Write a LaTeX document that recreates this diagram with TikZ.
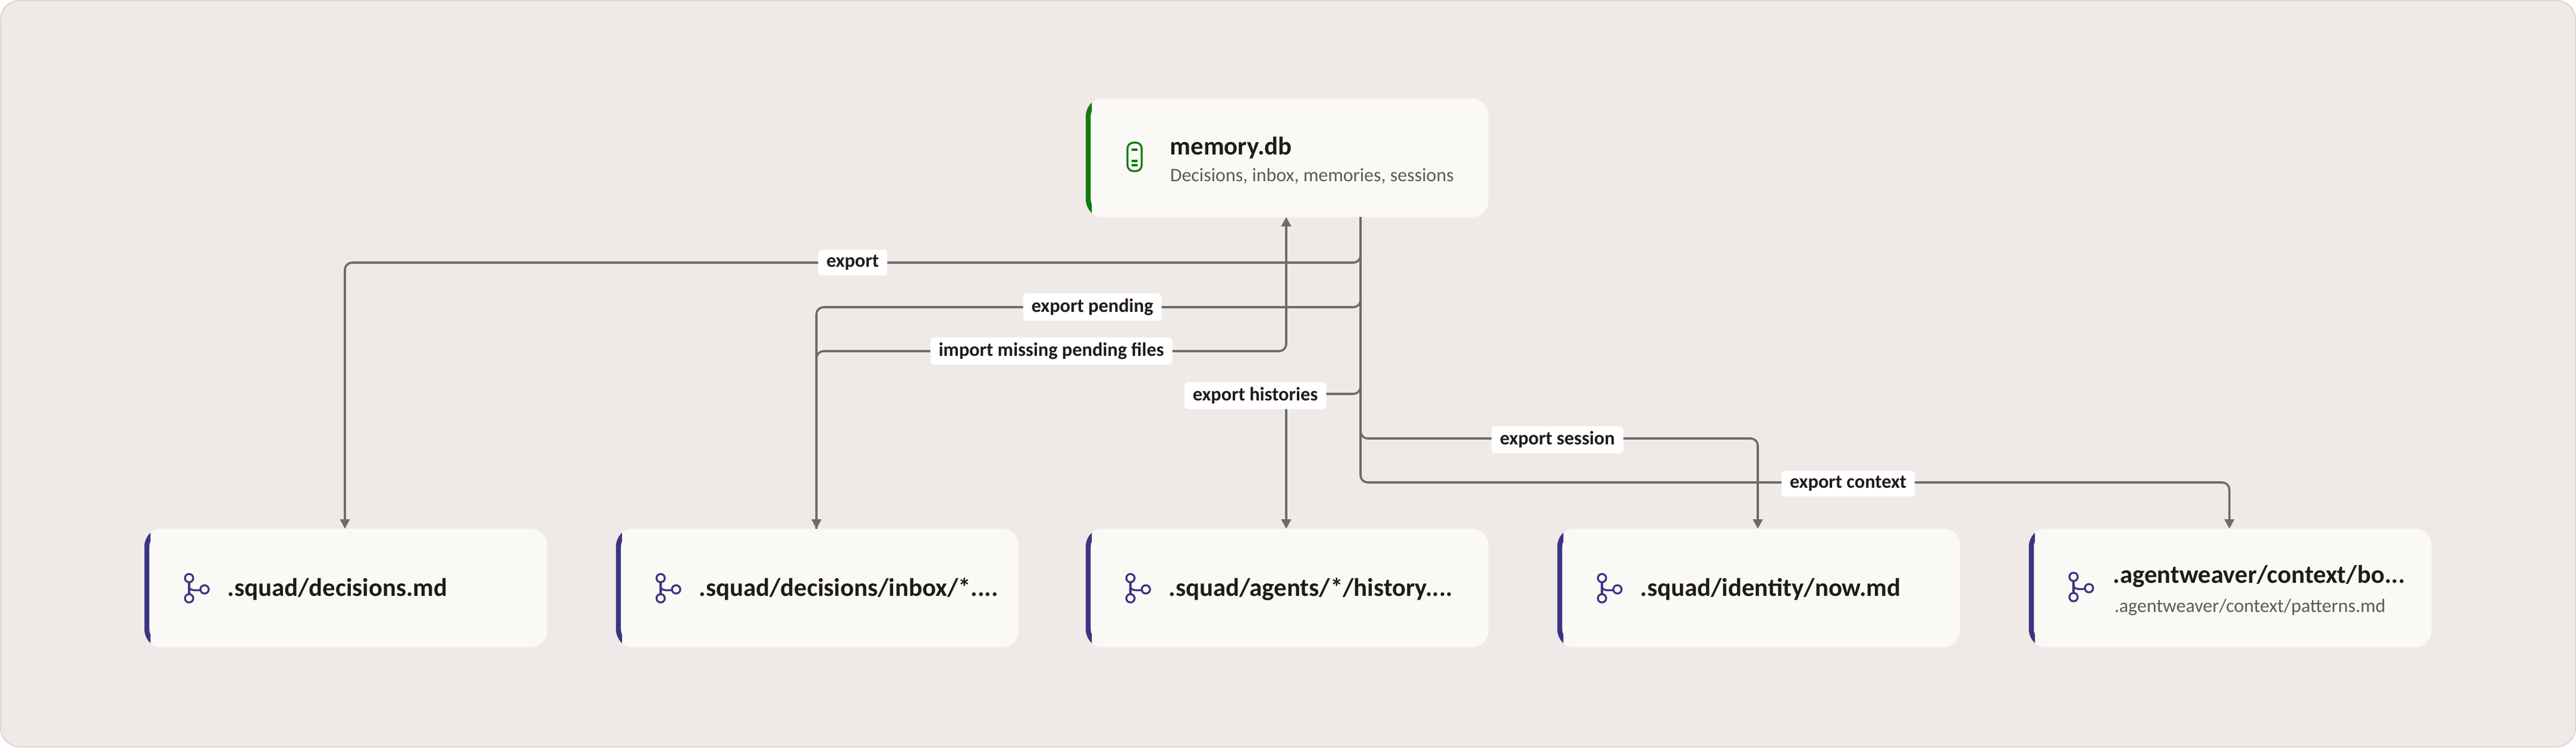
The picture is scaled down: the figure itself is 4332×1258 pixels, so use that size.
\documentclass[tikz,border=0pt]{standalone}
\usepackage{fontspec}
\setmainfont{Carlito}
\usetikzlibrary{arrows.meta,calc}
\definecolor{bg}{HTML}{EFEAE7}
\definecolor{bgline}{HTML}{DDD6D2}
\definecolor{cardc}{HTML}{FAF9F6}
\definecolor{gr}{HTML}{107C10}
\definecolor{pu}{HTML}{3B3581}
\definecolor{ln}{HTML}{6F6B68}
\definecolor{tx}{HTML}{1F1B18}
\definecolor{sub}{HTML}{5E5955}
\begin{document}
\begin{tikzpicture}[x=0.25pt,y=-0.25pt,
 card/.style={fill=cardc,rounded corners=7pt,minimum width=169.25pt,minimum height=50pt,inner sep=0pt},
 ttl/.style={anchor=west,text=tx,font=\fontsize{10.7pt}{11pt}\selectfont\bfseries,inner sep=0pt},
 st/.style={anchor=west,text=sub,font=\fontsize{8pt}{9pt}\selectfont,inner sep=0pt},
 lab/.style={fill=white,rounded corners=1.5pt,text=tx,font=\fontsize{8.1pt}{9pt}\selectfont\bfseries,inner xsep=3.5pt,inner ysep=2.2pt},
 conn/.style={draw=ln,line width=0.9pt,rounded corners=3pt,-{Triangle[length=4pt,width=4pt]}},
]
\useasboundingbox (0,0) rectangle (4332,1258);
\fill[bg,draw=bgline,line width=0.5pt,rounded corners=8pt] (1,1) rectangle (4331,1257);
\newcommand{\mkcard}[4]{%
 \node[card] (#1) at (#2+338.5,#3+99.5) {};
 \begin{scope}
 \clip (#2-6,#3-2) rectangle (#2+10,#3+202);
 \draw[#4,line width=2.1pt,rounded corners=7pt] (#2+60,#3+2) -- (#2+4,#3+2) -- (#2+4,#3+197) -- (#2+60,#3+197);
 \end{scope}}
\newcommand{\branch}[2]{%
 \begin{scope}[shift={(#1,#2)},pu,line width=0.8pt]
 \draw (0,-17) circle (7); \draw (0,17) circle (7); \draw (26,2) circle (7);
 \draw (0,-10) -- (0,10); \draw (0,-3) .. controls (0,4) and (10,4) .. (19,3);
 \end{scope}}
\mkcard{mem}{1826}{166}{gr}
\mkcard{n1}{243}{890}{pu}
\mkcard{n2}{1036}{890}{pu}
\mkcard{n3}{1826}{890}{pu}
\mkcard{n4}{2619}{890}{pu}
\mkcard{n5}{3412}{890}{pu}
\draw[gr,line width=0.8pt,rounded corners=2.5pt] (1896,240) rectangle (1920,288);
\draw[gr,line width=0.8pt] (1903,252)--(1913,252) (1903,271)--(1913,271) (1903,278)--(1913,278);
\node[ttl] (memt) at (1967,249) {memory.db};
\node[st] (mems) at (1967,296) {Decisions, inbox, memories, sessions};
\branch{318}{990}
\node[ttl] (t1) at (382,992) {.squad/decisions.md};
\branch{1111}{990}
\node[ttl] (t2) at (1175,992) {.squad/decisions/inbox/*....};
\branch{1901}{990}
\node[ttl] (t3) at (1965,992) {.squad/agents/*/history....};
\branch{2694}{990}
\node[ttl] (t4) at (2758,992) {.squad/identity/now.md};
\branch{3487}{988}
\node[ttl] (t5) at (3553,970) {.agentweaver/context/bo...};
\node[st] (s5) at (3555,1022) {.agentweaver/context/patterns.md};
\coordinate (o) at (2288,365);
\draw[conn] (o) |- (580,442) -- (580,890);
\draw[conn] (o) |- (1373,517) -- (1373,890);
\draw[conn] (1373,890) |- (2163,591) -- (2163,365);
\draw[conn] (o) |- (2163,663) -- (2163,890);
\draw[conn] (o) |- (2956,738) -- (2956,890);
\draw[conn] (o) |- (3749,812) -- (3749,890);
\node[lab] (l1) at (1434,442) {export};
\node[lab] (l2) at (1837,517) {export pending};
\node[lab] (l3) at (1768,591) {import missing pending files};
\node[lab] (l4) at (2111,666) {export histories};
\node[lab] (l5) at (2619,740) {export session};
\node[lab] (l6) at (3108,814) {export context};
\end{tikzpicture}
\end{document}
